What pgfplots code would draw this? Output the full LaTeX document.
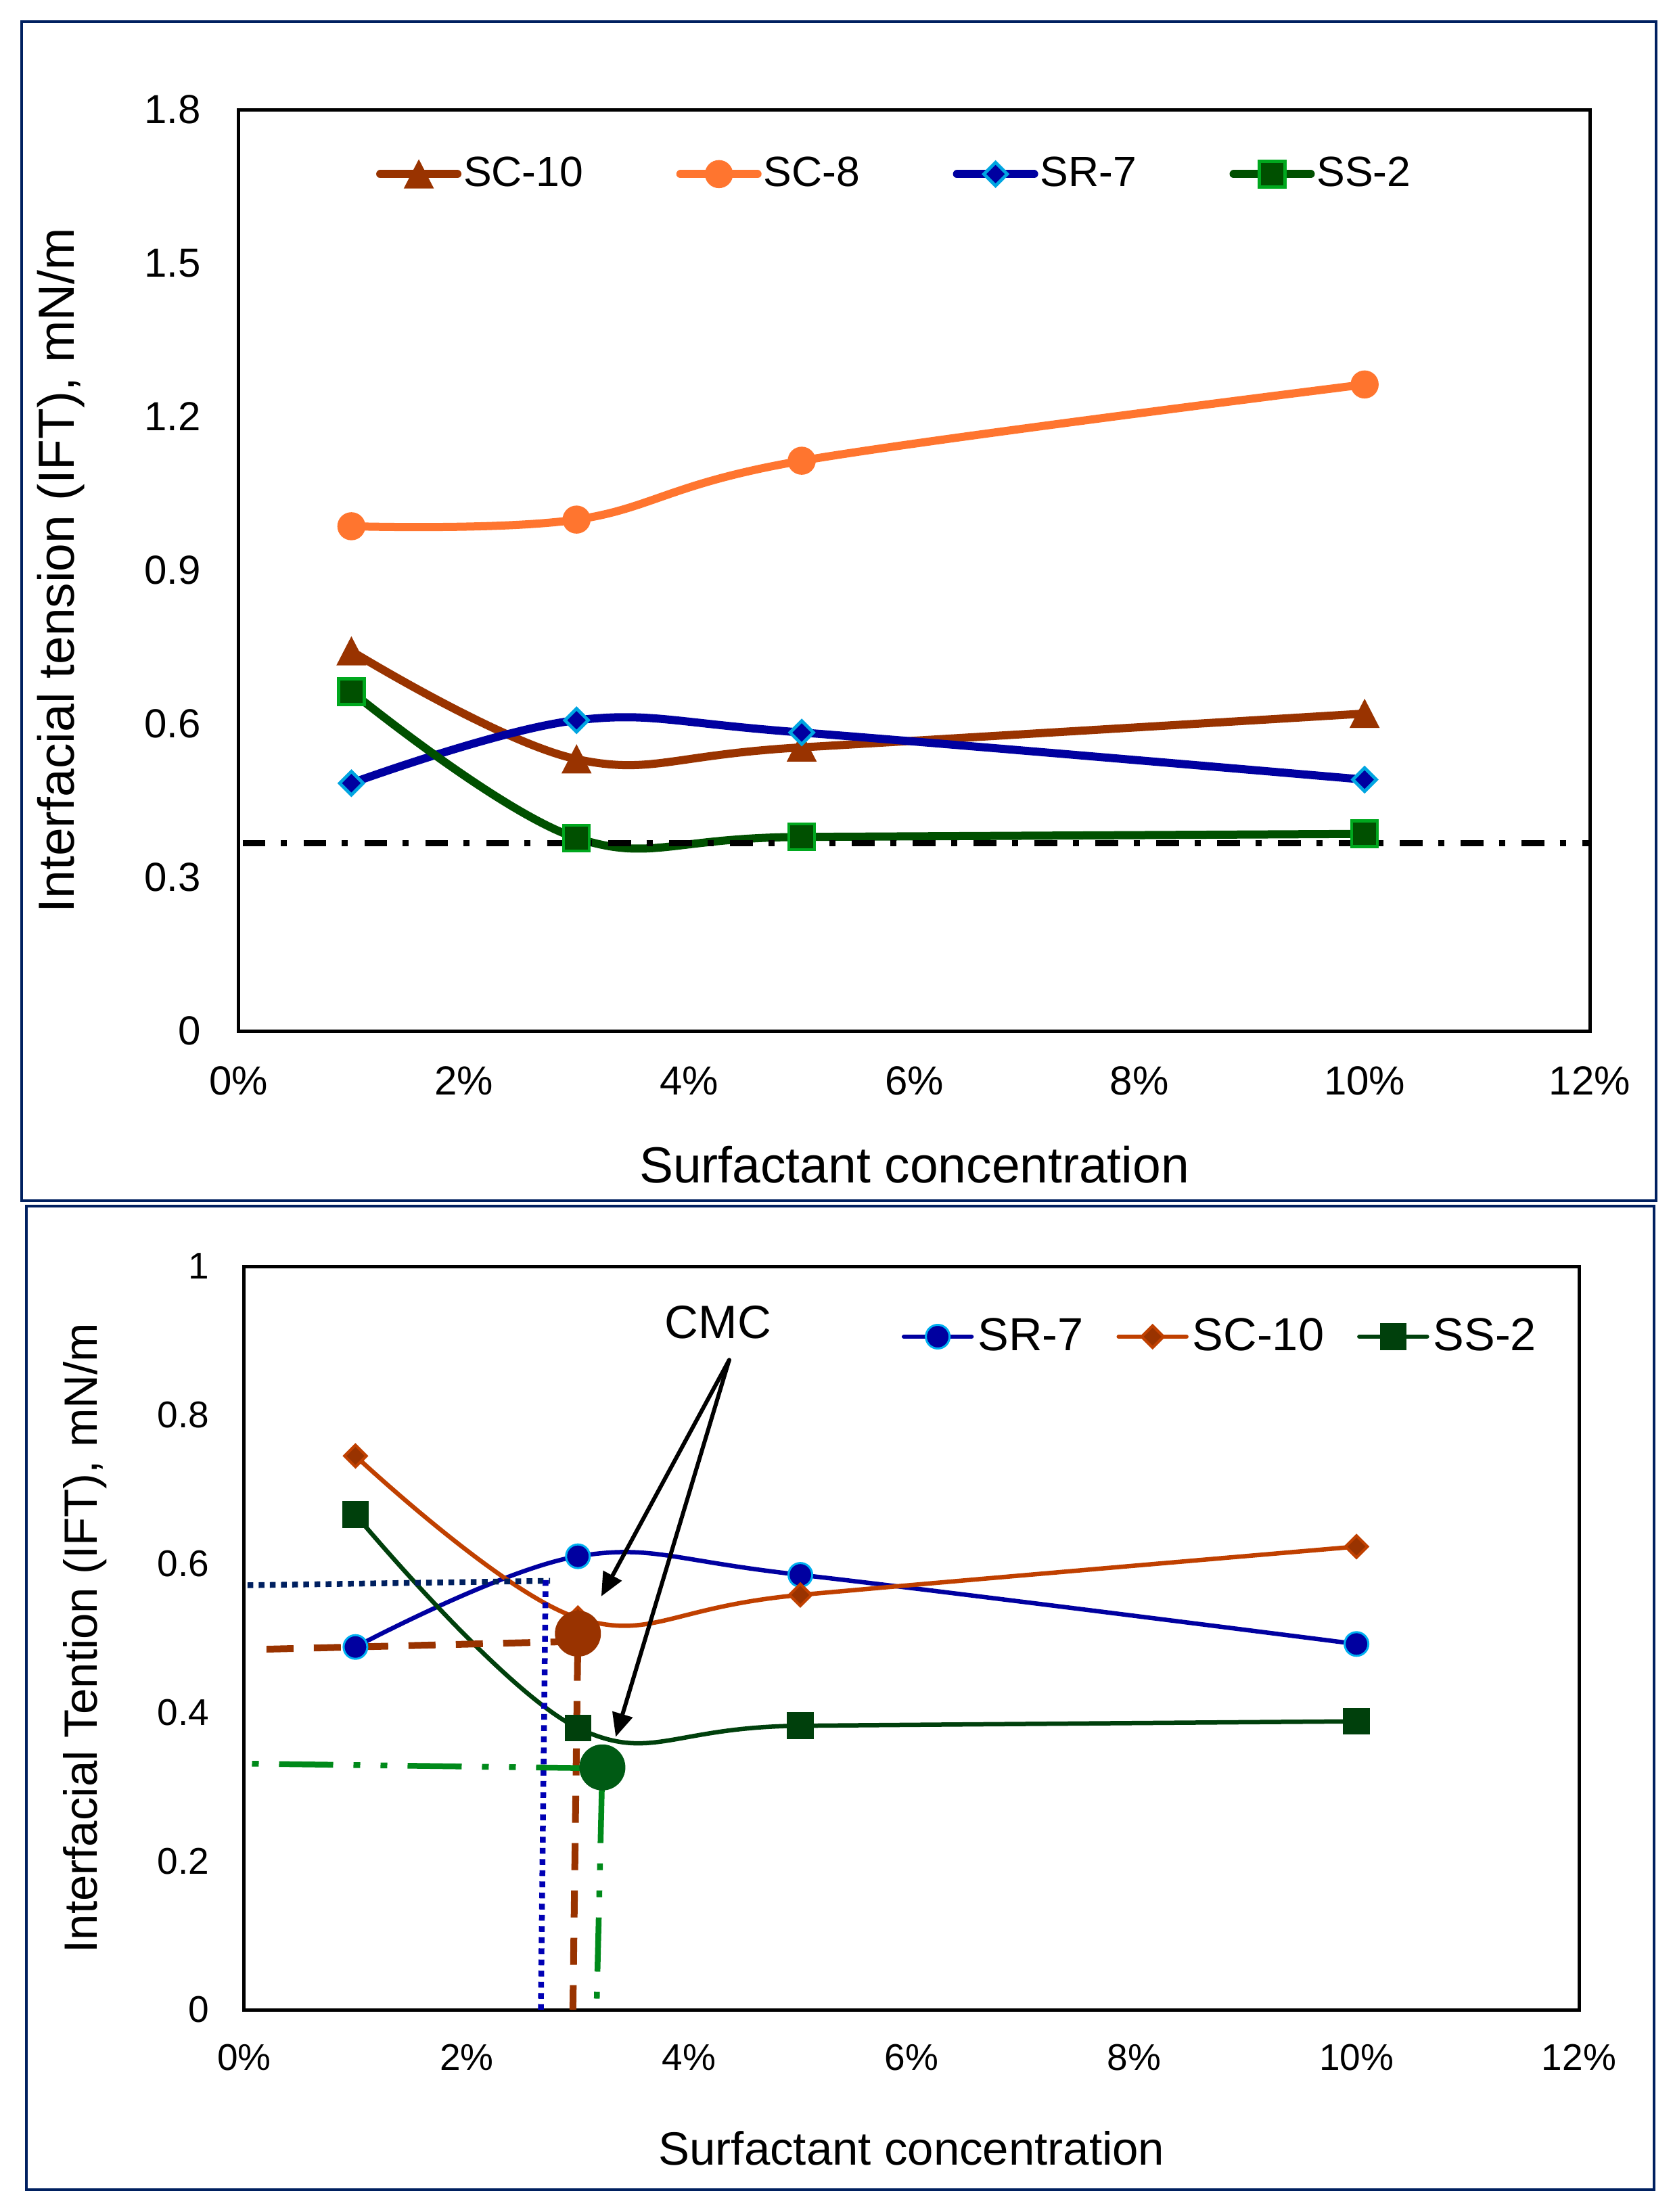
\documentclass[border=0pt]{standalone}
\usepackage{fontspec}
\setmainfont{Liberation Sans}
\usepackage{pgfplots}
\pgfplotsset{compat=1.18}
\usetikzlibrary{arrows.meta}
\definecolor{frame}{RGB}{0,32,96}
\definecolor{scten}{RGB}{153,51,0}
\definecolor{sceight}{RGB}{255,117,47}
\definecolor{srblue}{RGB}{0,0,160}
\definecolor{srlight}{RGB}{0,165,225}
\definecolor{ssgreen}{RGB}{0,80,0}
\definecolor{sslight}{RGB}{0,168,30}
\definecolor{sctenb}{RGB}{192,64,0}
\definecolor{ssgreenb}{RGB}{0,64,12}
\definecolor{srlightb}{RGB}{0,176,240}
\definecolor{refblueh}{RGB}{0,32,96}
\definecolor{refbluev}{RGB}{0,0,180}
\definecolor{refgreen}{RGB}{0,138,26}
\definecolor{cmcgreen}{RGB}{0,90,20}

\begin{document}
\begin{tikzpicture}
\useasboundingbox (0pt,0pt) rectangle (494.6pt,-654pt);
\fill[white] (0pt,0pt) rectangle (494.6pt,-654pt);
\draw[frame, line width=0.9pt] (6.4pt,-6.4pt) rectangle (489.6pt,-355pt);
\draw[frame, line width=0.9pt] (7.8pt,-356.6pt) rectangle (489pt,-647.4pt);

% ---------------- top chart ----------------
\begin{axis}[
  at={(70.6pt,-304.8pt)}, anchor=south west,
  scale only axis, width=399.4pt, height=272.4pt,
  xmin=0, xmax=12, ymin=0, ymax=1.8,
  xtick={0,2,4,6,8,10,12}, xticklabels={0\%,2\%,4\%,6\%,8\%,10\%,12\%},
  ytick={0,0.3,0.6,0.9,1.2,1.5,1.8}, yticklabels={0,0.3,0.6,0.9,1.2,1.5,1.8},
  major tick length=0pt,
  axis line style={line width=1pt},
  tick label style={font=\fontsize{12}{14}\selectfont},
  xticklabel style={inner sep=0pt, yshift=-10.4pt},
  yticklabel style={inner sep=0pt, xshift=-11.1pt},
  xlabel={Surfactant concentration},
  ylabel={Interfacial tension (IFT), mN/m},
  label style={font=\fontsize{15}{18}\selectfont},
  xlabel style={at={(axis description cs:0.5,-0.1454)}, anchor=center},
  ylabel style={at={(axis description cs:-0.1317,0.5)}, anchor=center},
  legend columns=4,
  legend style={at={(axis description cs:0.1017,0.930)}, anchor=west, draw=none, fill=none,
    inner sep=0pt, outer sep=0pt, font=\fontsize{12.5}{15}\selectfont, nodes={inner sep=0pt},
    /tikz/every odd column/.append style={column sep=0.6pt},
    /tikz/every even column/.append style={column sep=27.5pt}},
  legend image code/.code={\draw[mark repeat=2,mark phase=2,#1] plot coordinates {(0pt,0pt) (11.4pt,0pt) (22.8pt,0pt)};},
  every axis plot/.append style={line cap=round, line join=round},
]
\addplot[scten, line width=2.4pt, smooth, tension=0.6, mark=triangle*, mark size=4.85pt,
  mark options={solid, fill=scten, draw=scten, line width=0.3pt, yshift=-1.36pt, yscale=1.12, line join=miter}]
  coordinates {(1,0.742) (3,0.531) (5,0.554) (10,0.620)};
\addlegendentry{SC-10}
\addplot[sceight, line width=2.4pt, smooth, tension=0.6, mark=*, mark size=4.0pt,
  mark options={solid, fill=sceight, draw=sceight, line width=0.3pt}]
  coordinates {(1,0.986) (3,0.999) (5,1.114) (10,1.263)};
\addlegendentry{SC-8}
\addplot[srblue, line width=2.4pt, smooth, tension=0.6, mark=square*, mark size=2.45pt,
  mark options={solid, fill=srblue, draw=srlight, line width=0.95pt, rotate=45, line join=miter}]
  coordinates {(1,0.484) (3,0.607) (5,0.583) (10,0.491)};
\addlegendentry{SR-7}
\addplot[ssgreen, line width=2.4pt, smooth, tension=0.6, mark=square*, mark size=3.8pt,
  mark options={solid, fill=ssgreen, draw=sslight, line width=0.9pt, line join=miter}]
  coordinates {(1,0.663) (3,0.377) (5,0.379) (10,0.385)};
\addlegendentry{SS-2}
\addplot[black, line width=1.8pt, line cap=butt, dash pattern=on 6.7pt off 4.6pt on 1.8pt off 4.9pt, dash phase=16.8pt, forget plot]
  coordinates {(0,0.367) (12,0.367)};
\end{axis}

% ---------------- bottom chart ----------------
\begin{axis}[
  at={(72.2pt,-594.2pt)}, anchor=south west,
  scale only axis, width=394.6pt, height=219.8pt,
  xmin=0, xmax=12, ymin=0, ymax=1,
  xtick={0,2,4,6,8,10,12}, xticklabels={0\%,2\%,4\%,6\%,8\%,10\%,12\%},
  ytick={0,0.2,0.4,0.6,0.8,1}, yticklabels={0,0.2,0.4,0.6,0.8,1},
  major tick length=0pt,
  axis line style={line width=1pt},
  tick label style={font=\fontsize{11}{13}\selectfont},
  xticklabel style={inner sep=0pt, yshift=-10pt},
  yticklabel style={inner sep=0pt, xshift=-10.2pt},
  xlabel={Surfactant concentration},
  ylabel={Interfacial Tention (IFT), mN/m},
  label style={font=\fontsize{13.8}{16}\selectfont},
  xlabel style={at={(axis description cs:0.5,-0.1865)}, anchor=center},
  ylabel style={at={(axis description cs:-0.1191,0.5)}, anchor=center},
  legend columns=3,
  legend style={at={(axis description cs:0.4926,0.9054)}, anchor=west, draw=none, fill=none,
    inner sep=0pt, outer sep=0pt, font=\fontsize{13.7}{16}\selectfont, nodes={inner sep=0pt},
    /tikz/every odd column/.append style={column sep=1.2pt},
    /tikz/every even column/.append style={column sep=9.8pt}},
  legend image code/.code={\draw[mark repeat=2,mark phase=2,#1] plot coordinates {(0pt,0pt) (10pt,0pt) (20pt,0pt)};},
  every axis plot/.append style={line cap=round, line join=round},
]
\addplot[srblue, line width=1.3pt, smooth, tension=0.6, mark=*, mark size=3.5pt,
  mark options={solid, fill=srblue, draw=srlightb, line width=0.6pt}]
  coordinates {(1,0.488) (3,0.610) (5,0.585) (10,0.492)};
\addlegendentry{SR-7}
\addplot[sctenb, line width=1.3pt, smooth, tension=0.6, mark=square*, mark size=2.3pt,
  mark options={solid, fill=scten, draw=sctenb, line width=0.8pt, rotate=45, line join=miter}]
  coordinates {(1,0.745) (3,0.527) (5,0.558) (10,0.623)};
\addlegendentry{SC-10}
\addplot[ssgreenb, line width=1.3pt, smooth, tension=0.6, mark=square*, mark size=3.8pt,
  mark options={solid, fill=ssgreenb, draw=ssgreenb, line width=0.3pt, line join=miter}]
  coordinates {(1,0.666) (3,0.379) (5,0.382) (10,0.388)};
\addlegendentry{SS-2}
% CMC guide lines
\addplot[refblueh, line width=1.7pt, line cap=butt, dash pattern=on 1.7pt off 1.6pt, forget plot]
  coordinates {(0.03,0.571) (2.75,0.577)};
\addplot[refbluev, line width=1.7pt, line cap=butt, dash pattern=on 1.7pt off 1.6pt, forget plot]
  coordinates {(2.71,0.578) (2.667,0)};
\addplot[scten, line width=2pt, line cap=butt, dash pattern=on 8pt off 6pt, forget plot]
  coordinates {(0.2,0.485) (2.85,0.495)};
\addplot[scten, line width=2pt, line cap=butt, dash pattern=on 8pt off 6pt, forget plot]
  coordinates {(2.998,0.479) (2.955,0)};
\addplot[refgreen, line width=1.7pt, line cap=butt, dash pattern=on 2pt off 6pt on 16pt off 6pt on 2pt off 6pt, forget plot]
  coordinates {(0.07,0.331) (3.1,0.325)};
\addplot[refgreen, line width=1.7pt, line cap=butt, dash pattern=on 16pt off 6pt on 2pt off 6pt on 2pt off 6pt, forget plot]
  coordinates {(3.215,0.297) (3.17,0.015)};
% arrows
\addplot[black, line width=1.2pt, -{Triangle[length=7pt,width=6pt]}, forget plot]
  coordinates {(4.36,0.874) (3.21,0.556)};
\addplot[black, line width=1.2pt, -{Triangle[length=7pt,width=6pt]}, forget plot]
  coordinates {(4.36,0.874) (3.34,0.367)};
% CMC points
\addplot[only marks, mark=*, mark size=6.7pt, mark options={fill=scten, draw=scten, line width=0.2pt}, forget plot]
  coordinates {(3.0,0.506)};
\addplot[only marks, mark=*, mark size=6.7pt, mark options={fill=cmcgreen, draw=cmcgreen, line width=0.2pt}, forget plot]
  coordinates {(3.22,0.326)};
\node[font=\fontsize{13.8}{16}\selectfont] at (axis cs:4.26,0.925) {CMC};
\end{axis}
\end{tikzpicture}
\end{document}
